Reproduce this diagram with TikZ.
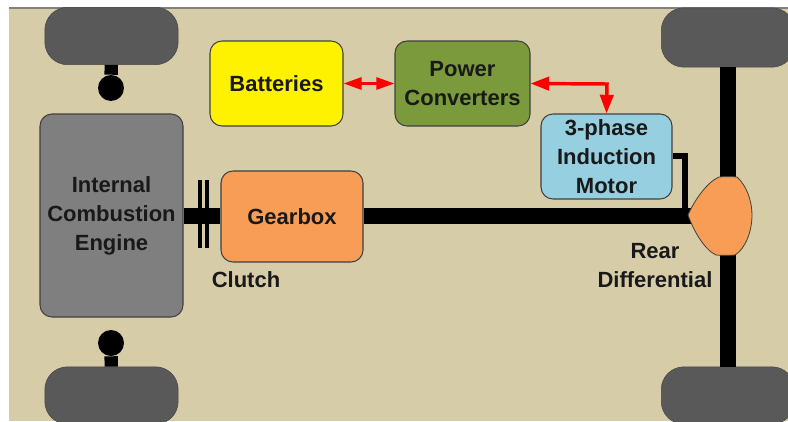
\documentclass[tikz,border=0pt]{standalone}
\usepackage{xcolor}
\usepackage{fontspec}
\setmainfont{Liberation Sans}
\usetikzlibrary{arrows.meta, positioning}
\definecolor{chassiscol}{HTML}{D6CDA8}
\definecolor{wheelcol}{HTML}{595959}
\definecolor{enginecol}{HTML}{7F7F7F}
\definecolor{convcol}{HTML}{7A9A3C}
\definecolor{motorcol}{HTML}{96CFE0}
\definecolor{orangecol}{HTML}{F79D55}
\definecolor{edgecol}{HTML}{404040}
\begin{document}
\begin{tikzpicture}[
  x=0.75pt, y=-0.75pt,
  box/.style={draw=edgecol, line width=0.8pt, rounded corners=9pt, align=center, inner sep=0pt,
    font=\bfseries\fontsize{16.5}{21.8}\selectfont, text=black!90},
  wheel/.style={draw=wheelcol!80!black, fill=wheelcol, rounded corners=17pt, inner sep=0pt, minimum width=100pt, minimum height=43pt},
  hub/.style={circle, fill=black, inner sep=0pt, minimum size=19.5pt},
  plate/.style={fill=black, inner sep=0pt, minimum width=3pt, minimum height=51pt},
  label/.style={align=center, inner sep=0pt, font=\bfseries\fontsize{16.5}{21.8}\selectfont, text=black!90},
  axle/.style={line width=12pt},
  shaft/.style={line width=12pt},
  stalk/.style={line width=10pt},
  link/.style={line width=4.5pt},
  powera/.style={red, line width=2pt, {Triangle[length=13.5pt,width=9pt]}-{Triangle[length=13.5pt,width=9pt]}},
  powerb/.style={red, line width=2.6pt, {Triangle[length=14pt,width=10pt]}-{Triangle[length=14pt,width=10pt]}}
]
\useasboundingbox (0,0) rectangle (788,421);
\clip (0,0) rectangle (788,421);
% frame
\node[fill=chassiscol, inner sep=0pt, minimum width=584.25pt, minimum height=309.75pt, anchor=north west] (chassis) at (9,8) {};
\draw[gray, line width=1pt] (chassis.north west) -- (chassis.north east);
% wheels
\node[wheel] (wheelfl) at (111.5,36) {};
\node[wheel] (wheelrl) at (111.5,395.5) {};
\node[wheel, anchor=west, minimum height=44.5pt] (wheelfr) at (661,37.5) {};
\node[wheel, anchor=west] (wheelrr) at (661,395.5) {};
\node[hub] (hubfl) at (111,88) {};
\node[hub] (hubrl) at (111,343) {};
\draw[stalk] (wheelfl) -- (hubfl);
\draw[stalk] (wheelrl) -- (hubrl);
% rear axle
\coordinate (axlefr) at (wheelfr.south -| 728,0);
\coordinate (axlerr) at (wheelrr.north -| 728,0);
\draw[axle] (axlefr) -- (axlerr);
% boxes
\node[box, fill=enginecol, minimum width=107.25pt, minimum height=152.25pt] (engine) at (111.5,215.5) {Internal\\Combustion\\Engine};
\node[box, fill=orangecol, minimum width=106.5pt, minimum height=68.25pt] (gearbox) at (292,216.5) {Gearbox};
\node[box, fill=yellow, minimum width=99.75pt, minimum height=63.75pt] (batteries) at (276.5,83.5) {Batteries};
\node[box, fill=convcol, minimum width=101.25pt, minimum height=63.75pt] (converters) at (462.5,83.5) {Power\\Converters};
\node[box, fill=motorcol, minimum width=98.25pt, minimum height=63.75pt] (motor) at (606.5,156.5) {3-phase\\Induction\\Motor};
% clutch
\node[plate] (clutcha) at (200,214) {};
\node[plate] (clutchb) at (207,214) {};
\coordinate (diffin) at (695,216);
\draw[shaft] (engine.east |- 0,216) -- (gearbox.west |- 0,216);
\draw[shaft] (gearbox.east |- 0,216) -- (diffin);
\coordinate (linkin) at (685,216);
\draw[link] (motor.east |- 0,156) -| (linkin);
% differential
\draw[draw=edgecol, fill=orangecol, line width=0.6pt] (688,215) .. controls (694,201) and (707,182) .. (719,177)
  .. controls (725,176.5) and (731,176.5) .. (737,177) .. controls (746,185) and (752,200) .. (752,215)
  .. controls (752,232) and (745,249) .. (735,255)
  .. controls (728,255.5) and (722,255.5) .. (716,255) .. controls (705,250) and (694,232) .. (688,215) -- cycle;
% power lines
\draw[powera] (batteries.east) -- (converters.west);
\coordinate (bend) at (607,84);
\draw[powerb] (converters.east) -- (bend) -- (motor.north);
% labels
\node[label] (clutch) at (246,280) {Clutch};
\node[label] (rear) at (655,265.5) {Rear\\Differential};
\end{tikzpicture}
\end{document}
